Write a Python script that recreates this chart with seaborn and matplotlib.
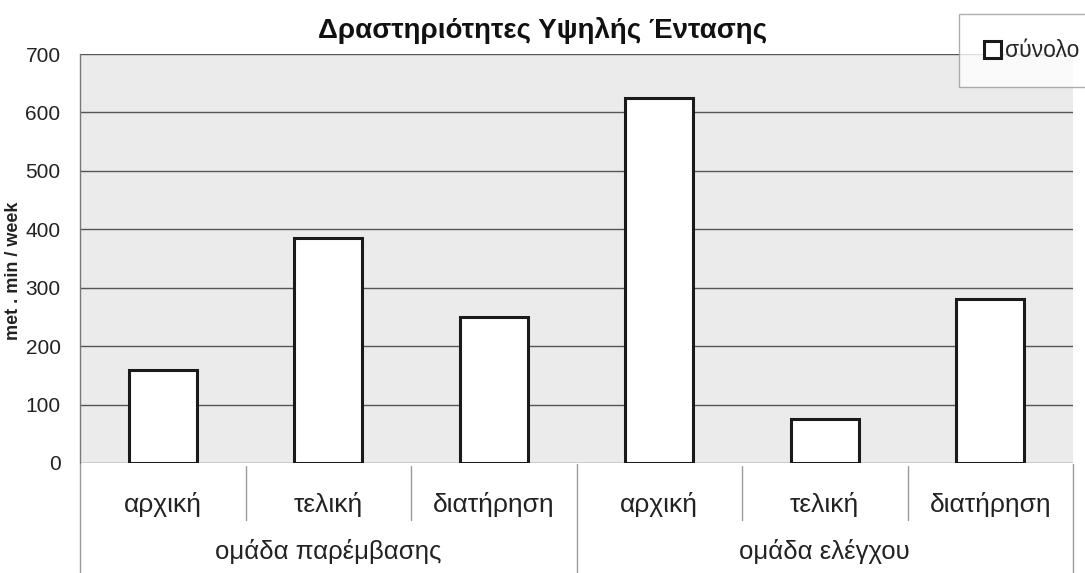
import matplotlib
matplotlib.use("Agg")
import matplotlib.pyplot as plt
import matplotlib.transforms as mtransforms
import seaborn as sns
import pandas as pd

groups = ["ομάδα παρέμβασης", "ομάδα ελέγχου"]
phases = ["αρχική", "τελική", "διατήρηση"]
values = [160, 385, 250, 625, 75, 280]
series_name = "σύνολο"
title = "Δραστηριότητες Υψηλής Έντασης"
ylabel = "met . min / week"
yticks = [0, 100, 200, 300, 400, 500, 600, 700]

keys = [f"{g}|{p}" for g in groups for p in phases]
df = pd.DataFrame({"key": keys, "value": values})

sns.set_theme(style="white")
plt.rcParams['font.family'] = ['Liberation Sans', 'DejaVu Sans']

fig = plt.figure(figsize=(10.85, 5.73), dpi=100)
ax = fig.add_axes([80/1085, 1-463/573, (1073-80)/1085, (463-54)/573])
ax.set_facecolor('#ebebeb')

sns.barplot(data=df, x="key", y="value", order=keys, ax=ax, color="white",
            edgecolor="#1a1a1a", linewidth=2.2, width=0.41, label=series_name,
            zorder=3)

ax.set_ylim(0, 700)
ax.set_yticks(yticks)
ax.set_yticklabels([str(t) for t in yticks], fontsize=15, color='#222222')
ax.yaxis.grid(True, color='#555555', linewidth=1.0, zorder=0)
ax.set_axisbelow(True)
ax.set_xlim(-0.5, len(keys) - 0.5)
ax.set_xticks(range(len(keys)))
ax.set_xticklabels([k.split("|")[1] for k in keys], fontsize=19, color='#222222')
ax.tick_params(axis='x', length=0, pad=21)
ax.tick_params(axis='y', length=4, color='#888888', pad=10)
ax.set_xlabel("")
ax.set_ylabel(ylabel, fontsize=13, fontweight='bold', color='#222222')
ax.yaxis.set_label_coords(-0.058, 0.47)

for side in ['top', 'right', 'bottom']:
    ax.spines[side].set_visible(False)
ax.spines['left'].set_color('#777777')
ax.spines['left'].set_linewidth(1.0)

# multi-level category separators
trans = mtransforms.blended_transform_factory(ax.transData, ax.transAxes)
ax_h_px = 463 - 54
def yax(py):
    return (463 - py) / ax_h_px
n = len(keys)
for i in range(n + 1):
    xpos = i - 0.5
    if i in (0, n, len(phases)):
        y0, y1 = yax(464), yax(573)
    else:
        y0, y1 = yax(466), yax(520)
    ax.plot([xpos, xpos], [y0, y1], transform=trans, color='#9a9a9a',
            linewidth=1.0, clip_on=False)

for gi, g in enumerate(groups):
    center = gi * len(phases) + (len(phases) - 1) / 2
    ax.text(center, yax(551), g, transform=trans, ha='center', va='center',
            fontsize=18.5, color='#222222')

fig.text(0.5, 1 - 30/573, title, ha='center', va='center', fontsize=20,
         fontweight='bold', color='#111111')

leg = ax.legend(loc='upper left', bbox_to_anchor=(959/1085, 1 - 14/573),
                bbox_transform=fig.transFigure, fontsize=16.5, frameon=True,
                fancybox=False, handlelength=0.75, handleheight=0.75,
                handletextpad=0.15, borderpad=1.1, borderaxespad=0)
leg.get_frame().set_edgecolor('#999999')
leg.get_frame().set_linewidth(1.0)
leg.get_frame().set_facecolor('white')
for h in leg.legend_handles:
    h.set_linewidth(2.2)

fig.savefig("out.png", dpi=100, facecolor='white')
